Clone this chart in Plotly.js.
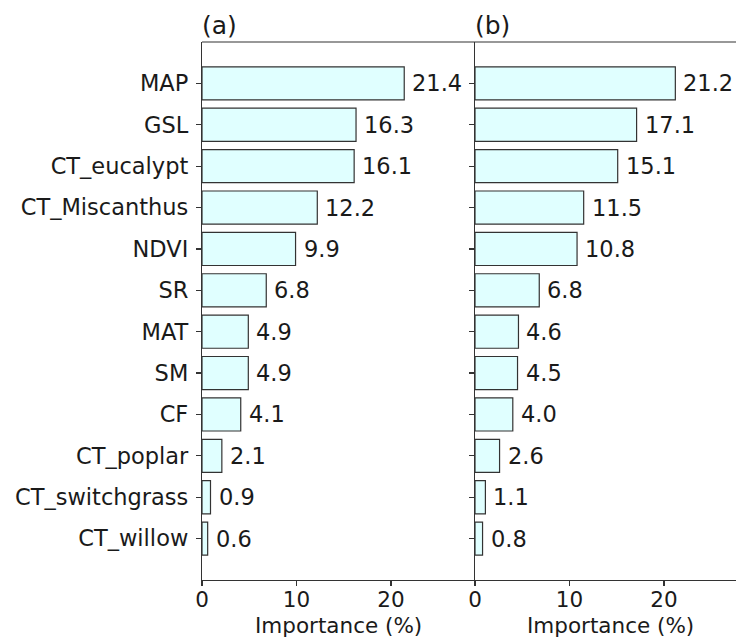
<!DOCTYPE html>
<html>
<head>
<meta charset="utf-8">
<script src="https://cdn.plot.ly/plotly-3.0.1.min.js"></script>
<style>html,body{margin:0;padding:0;background:#fff;}#chart{width:736px;height:639px;}</style>
</head>
<body>
<div id="chart"></div>
<script>
const features = ["MAP","GSL","CT_eucalypt","CT_Miscanthus","NDVI","SR","MAT","SM","CF","CT_poplar","CT_switchgrass","CT_willow"];
const importanceA = [21.4,16.3,16.1,12.2,9.9,6.8,4.9,4.9,4.1,2.1,0.9,0.6];
const importanceB = [21.2,17.1,15.1,11.5,10.8,6.8,4.6,4.5,4.0,2.6,1.1,0.8];
const panelTitles = ["(a)","(b)"];
const xTickVals = [0,10,20];
const xLabel = "Importance (%)";

const W = 736, H = 639;
const L = 202, T = 42, B = 59;
const plotW = W - L;
const splitPx = 273;
const dA = [0, splitPx/plotW];
const dB = [splitPx/plotW, 1];
const pxPerUnit = 9.45;
const rangeA = [0, splitPx/pxPerUnit];
const rangeB = [0, (plotW - splitPx)/pxPerUnit];

const font = {family: "DejaVu Sans", size: 22.5, color: "#1a1a1a"};
const xFont = {family: "DejaVu Sans", size: 21.5, color: "#1a1a1a"};
const titleFont = {family: "DejaVu Sans", size: 25, color: "#1a1a1a"};
const barStyle = {color: "#E0FFFF", line: {color: "#333333", width: 1.2}};

const traces = [
  {type: "bar", orientation: "h", x: importanceA, y: features, xaxis: "x", yaxis: "y", width: 0.8, marker: barStyle, hoverinfo: "x+y"},
  {type: "bar", orientation: "h", x: importanceB, y: features, xaxis: "x2", yaxis: "y2", width: 0.8, marker: barStyle, hoverinfo: "x+y"}
];

const annotations = [];
[[importanceA, "x", "y"], [importanceB, "x2", "y2"]].forEach(([vals, xr, yr]) => {
  vals.forEach((v, i) => {
    annotations.push({x: v, y: features[i], xref: xr, yref: yr, text: v.toFixed(1), showarrow: false,
      xanchor: "left", yanchor: "middle", xshift: 6, font: font});
  });
});
annotations.push({x: dA[0], y: 1, xref: "paper", yref: "paper", text: panelTitles[0], showarrow: false,
  xanchor: "left", yanchor: "bottom", yshift: 0, xshift: -2, font: titleFont});
annotations.push({x: dB[0], y: 1, xref: "paper", yref: "paper", text: panelTitles[1], showarrow: false,
  xanchor: "left", yanchor: "bottom", yshift: 0, xshift: -2, font: titleFont});
// axis titles (b centred on its full, clipped axis length)
const fullBWidth = 21.2*1.35*pxPerUnit;
annotations.push({x: (dA[0]+dA[1])/2, y: 0, xref: "paper", yref: "paper", text: xLabel, showarrow: false,
  xanchor: "center", yanchor: "top", yshift: -31, font: xFont});
annotations.push({x: (splitPx + fullBWidth/2)/plotW, y: 0, xref: "paper", yref: "paper", text: xLabel, showarrow: false,
  xanchor: "center", yanchor: "top", yshift: -31, font: xFont});

const xCommon = {showline: true, linecolor: "#333333", linewidth: 1.2, ticks: "outside", ticklen: 5, tickwidth: 1.2,
  tickcolor: "#333333", tickvals: xTickVals, showgrid: false, zeroline: false, tickfont: xFont, fixedrange: true,
  ticklabelstandoff: -5};
const yCommon = {showline: true, linecolor: "#333333", linewidth: 1.2, ticks: "outside", ticklen: 5, tickwidth: 1.2,
  tickcolor: "#333333", showgrid: false, zeroline: false, tickfont: font, type: "category",
  categoryorder: "array", categoryarray: features, range: [features.length, -1], fixedrange: true,
  ticklabelstandoff: 3};

const layout = {
  width: W, height: H,
  margin: {l: L, r: 0, t: T, b: B, pad: 0},
  paper_bgcolor: "#ffffff", plot_bgcolor: "#ffffff",
  showlegend: false,
  font: font,
  xaxis: Object.assign({}, xCommon, {domain: dA, range: rangeA, anchor: "y"}),
  xaxis2: Object.assign({}, xCommon, {domain: dB, range: rangeB, anchor: "y2"}),
  yaxis: Object.assign({}, yCommon, {domain: [0,1], anchor: "x"}),
  yaxis2: Object.assign({}, yCommon, {domain: [0,1], anchor: "x2", showticklabels: false}),
  shapes: [{type: "line", xref: "paper", yref: "paper", x0: 0, x1: 1, y0: 1, y1: 1, line: {color: "#333333", width: 1.2}}],
  annotations: annotations
};

Plotly.newPlot("chart", traces, layout, {displayModeBar: false, staticPlot: true});
</script>
</body>
</html>
